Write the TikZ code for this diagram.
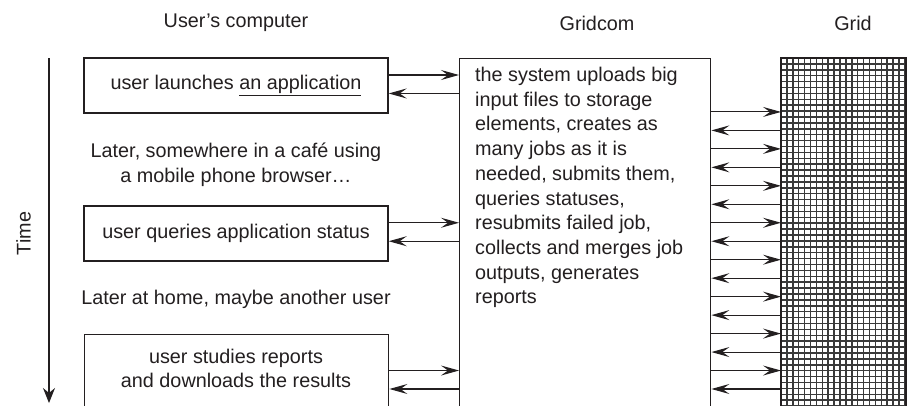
\documentclass[tikz,border=0pt]{standalone}
\usepackage{fontspec}
\setmainfont{Liberation Sans}
\usetikzlibrary{arrows.meta,calc}
\definecolor{ink}{HTML}{231F20}
\definecolor{meshc}{HTML}{3A3A3A}
\begin{document}
\begin{tikzpicture}[x=1pt,y=-1pt,
  every node/.style={font=\fontsize{19.8}{24.7}\selectfont, text=ink},
  box/.style={draw=ink, line width=1.4pt, rectangle, inner sep=0pt},
  arr/.style={draw=ink, line width=1.1pt, -{Stealth[length=18pt,width=10pt,inset=7pt]}},
  tarr/.style={draw=ink, line width=1.3pt, -{Stealth[length=15pt,width=12pt,inset=5pt]}},
  plain/.style={inner sep=0pt, align=center},
  mesh/.style={draw=meshc, line width=1.5pt}]
\useasboundingbox (0,0) rectangle (913,405);
\clip (0,0) rectangle (913,405);
\fill[white] (0,0) rectangle (913,405);

% titles
\node[plain] (t1) at (236,23) {User's computer};
\node[plain] (t2) at (597,23) {Gridcom};
\node[plain] (t3) at (853,23) {Grid};

% time axis
\node[plain, rotate=90] (time) at (23.5,233.5) {Time};
\coordinate (tA) at (49,58);
\coordinate (tB) at (49,403);
\draw[tarr] (tA) -- (tB);

% user boxes
\node[box, minimum width=304pt, minimum height=55pt] (box1) at (236,85.5) {user launches \underline{an application}};
\node[plain] (later1) at (236,165) {Later, somewhere in a café using\\a mobile phone browser…};
\node[box, minimum width=304pt, minimum height=55pt] (box2) at (236,233.5) {user queries application status};
\node[plain] (later2) at (236,299) {Later at home, maybe another user};
\node[box, minimum width=304pt, minimum height=100pt, anchor=north west] (box3) at (84,334) {};
\node[plain] (box3t) at (236,368.5) {user studies reports\\and downloads the results};

% gridcom
\node[box, minimum width=251pt, minimum height=380pt, anchor=north west] (gc) at (459,58) {};
\node[inner sep=0pt, align=left, anchor=north west] (gct) at (475,67) {the system uploads big\\input files to storage\\elements, creates as\\many jobs as it is\\needed, submits them,\\queries statuses,\\resubmits failed job,\\collects and merges job\\outputs, generates\\reports};

% grid
\node[inner sep=0pt, outer sep=0pt, minimum width=125pt, minimum height=380pt, anchor=north west] (grid) at (781,58) {};
\begin{scope}
\clip (781,58) rectangle (906,440);
\foreach \k in {0,...,21} \draw[mesh] ({781+5.9*\k},58) -- ({781+5.9*\k},440);
\foreach \k in {0,...,60} \draw[mesh] (781,{58+5.9*\k}) -- (906,{58+5.9*\k});
\end{scope}
\draw[ink, line width=1.4pt] (781,440) -- (781,58) -- (906,58) -- (906,440);
\draw[ink, line width=2.2pt] (781,58) -- (906,58);

% rows
\foreach \i in {0,...,17} \coordinate (r\i) at (0,{75+18.47*\i});

% user <-> gridcom
\draw[arr] (box1.east |- r0) -- (gc.west |- r0);
\draw[arr] (gc.west |- r1) -- (box1.east |- r1);
\draw[arr] (box2.east |- r8) -- (gc.west |- r8);
\draw[arr] (gc.west |- r9) -- (box2.east |- r9);
\draw[arr] (box3.east |- r16) -- (gc.west |- r16);
\draw[arr] (gc.west |- r17) -- (box3.east |- r17);

% gridcom <-> grid
\foreach \i in {2,4,...,16} \draw[arr] (gc.east |- r\i) -- (grid.west |- r\i);
\foreach \i in {3,5,...,17} \draw[arr] (grid.west |- r\i) -- (gc.east |- r\i);
\end{tikzpicture}
\end{document}
